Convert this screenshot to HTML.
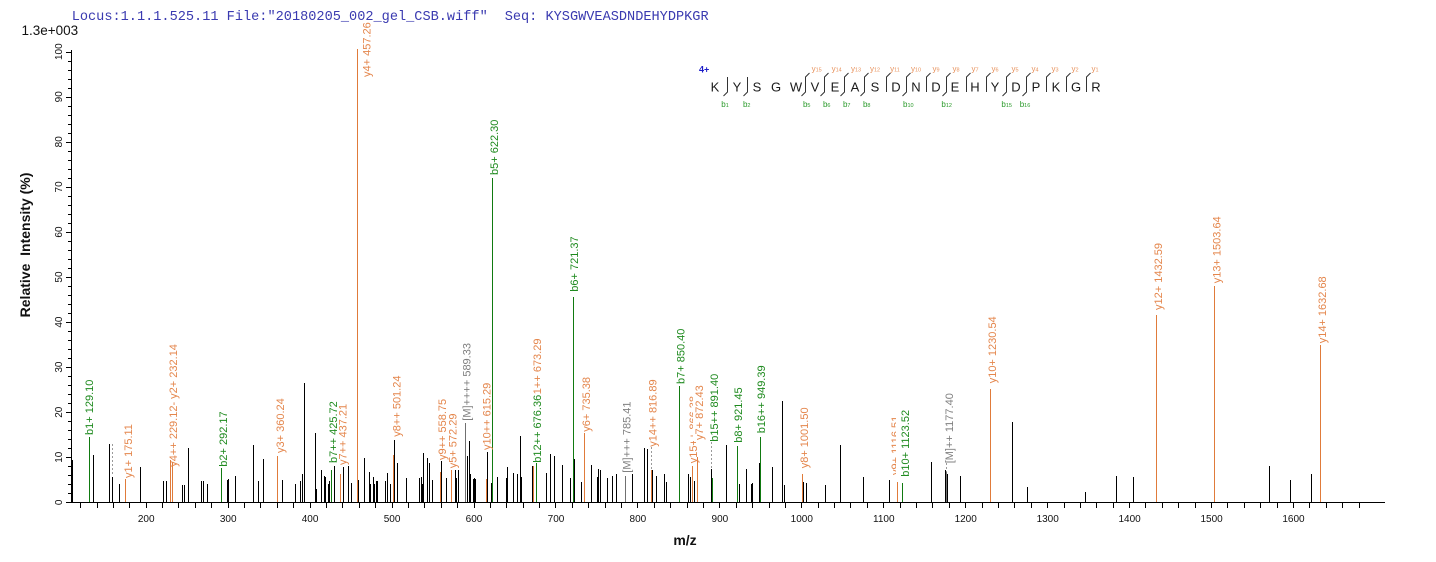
<!DOCTYPE html>
<html>
<head>
<meta charset="utf-8">
<style>
html,body{margin:0;padding:0;background:#fff;}
svg{display:block;}
.lb{font-family:"Liberation Sans",Arial,sans-serif;font-size:11px;}
.o{fill:#e4864c;}
.g{fill:#1e8a1e;}
.m{fill:#808080;}
.tk{font-family:"Liberation Sans",Arial,sans-serif;font-size:10px;fill:#111;}
</style>
</head>
<body>
<svg width="1436" height="562" viewBox="0 0 1436 562" xmlns="http://www.w3.org/2000/svg">
<rect x="0" y="0" width="1436" height="562" fill="#fff"/>

<!-- header -->
<text x="71.7" y="20" font-family="Liberation Mono, monospace" font-size="13.6" fill="#3a3ab0">Locus:1.1.1.525.11 File:"20180205_002_gel_CSB.wiff"</text>
<text x="504.7" y="20" font-family="Liberation Mono, monospace" font-size="13.6" fill="#3a3ab0">Seq: KYSGWVEASDNDEHYDPKGR</text>
<text x="21.5" y="35" font-family="Liberation Sans, Arial, sans-serif" font-size="13.5" fill="#111">1.3e+003</text>

<!-- axes -->
<g shape-rendering="crispEdges" stroke="#000" stroke-width="1" fill="none">
<path d="M71.5 50V503M71 502.5H1385"/>
<path d="M66 502.5H71M66 457.5H71M66 412.5H71M66 367.5H71M66 322.5H71M66 277.5H71M66 232.5H71M66 187.5H71M66 142.5H71M66 97.5H71M66 52.5H71"/>
<path d="M68 493.5H71M68 484.5H71M68 475.5H71M68 466.5H71M68 448.5H71M68 439.5H71M68 430.5H71M68 421.5H71M68 403.5H71M68 394.5H71M68 385.5H71M68 376.5H71M68 358.5H71M68 349.5H71M68 340.5H71M68 331.5H71M68 313.5H71M68 304.5H71M68 295.5H71M68 286.5H71M68 268.5H71M68 259.5H71M68 250.5H71M68 241.5H71M68 223.5H71M68 214.5H71M68 205.5H71M68 196.5H71M68 178.5H71M68 169.5H71M68 160.5H71M68 151.5H71M68 133.5H71M68 124.5H71M68 115.5H71M68 106.5H71M68 88.5H71M68 79.5H71M68 70.5H71M68 61.5H71"/>
<path d="M80.5 502V508M97.5 502V508M113.5 502V508M129.5 502V508M146.5 502V508M162.5 502V508M178.5 502V508M195.5 502V508M211.5 502V508M228.5 502V508M244.5 502V508M260.5 502V508M277.5 502V508M293.5 502V508M310.5 502V508M326.5 502V508M342.5 502V508M359.5 502V508M375.5 502V508M392.5 502V508M408.5 502V508M424.5 502V508M441.5 502V508M457.5 502V508M474.5 502V508M490.5 502V508M506.5 502V508M523.5 502V508M539.5 502V508M555.5 502V508M572.5 502V508M588.5 502V508M605.5 502V508M621.5 502V508M637.5 502V508M654.5 502V508M670.5 502V508M687.5 502V508M703.5 502V508M719.5 502V508M736.5 502V508M752.5 502V508M769.5 502V508M785.5 502V508M801.5 502V508M818.5 502V508M834.5 502V508M850.5 502V508M867.5 502V508M883.5 502V508M900.5 502V508M916.5 502V508M932.5 502V508M949.5 502V508M965.5 502V508M982.5 502V508M998.5 502V508M1014.5 502V508M1031.5 502V508M1047.5 502V508M1064.5 502V508M1080.5 502V508M1096.5 502V508M1113.5 502V508M1129.5 502V508M1145.5 502V508M1162.5 502V508M1178.5 502V508M1195.5 502V508M1211.5 502V508M1227.5 502V508M1244.5 502V508M1260.5 502V508M1277.5 502V508M1293.5 502V508M1309.5 502V508M1326.5 502V508M1342.5 502V508M1359.5 502V508"/>
</g>

<!-- y tick labels -->
<g class="tk" text-anchor="middle">
<text transform="translate(61.9,502.3) rotate(-90)">0</text>
<text transform="translate(61.9,457.2) rotate(-90)">10</text>
<text transform="translate(61.9,412.2) rotate(-90)">20</text>
<text transform="translate(61.9,367.1) rotate(-90)">30</text>
<text transform="translate(61.9,322.1) rotate(-90)">40</text>
<text transform="translate(61.9,277) rotate(-90)">50</text>
<text transform="translate(61.9,232) rotate(-90)">60</text>
<text transform="translate(61.9,186.9) rotate(-90)">70</text>
<text transform="translate(61.9,141.8) rotate(-90)">80</text>
<text transform="translate(61.9,96.8) rotate(-90)">90</text>
<text transform="translate(61.9,51.7) rotate(-90)">100</text>
</g>

<!-- x tick labels -->
<g class="tk" text-anchor="middle">
<text x="146.2" y="521.8">200</text>
<text x="228.2" y="521.8">300</text>
<text x="310.1" y="521.8">400</text>
<text x="392.1" y="521.8">500</text>
<text x="474" y="521.8">600</text>
<text x="556" y="521.8">700</text>
<text x="637.9" y="521.8">800</text>
<text x="719.9" y="521.8">900</text>
<text x="801.8" y="521.8">1000</text>
<text x="883.8" y="521.8">1100</text>
<text x="965.7" y="521.8">1200</text>
<text x="1047.7" y="521.8">1300</text>
<text x="1129.6" y="521.8">1400</text>
<text x="1211.6" y="521.8">1500</text>
<text x="1293.5" y="521.8">1600</text>
</g>

<!-- axis titles -->
<text x="685" y="545" text-anchor="middle" font-family="Liberation Sans, Arial, sans-serif" font-size="14" font-weight="bold" fill="#111">m/z</text>
<text transform="translate(30,245) rotate(-90)" text-anchor="middle" font-family="Liberation Sans, Arial, sans-serif" font-size="14" font-weight="bold" fill="#111">Relative&#160; Intensity (%)</text>

<!-- black peaks -->
<path shape-rendering="crispEdges" stroke="#000" stroke-width="1" fill="none" d="M72.5 460V502M93.5 455V502M109.5 444V502M112.5 477V502M119.5 484V502M140.5 467V502M163.5 481V502M166.5 481V502M182.5 485V502M184.5 485V502M188.5 448V502M201.5 481V502M203.5 481V502M207.5 484V502M227.5 480V502M228.5 479V502M235.5 476V502M253.5 445V502M258.5 481V502M263.5 459V502M282.5 480V502M295.5 484V502M300.5 481V502M302.5 474V502M304.5 383V502M315.5 433V502M316.5 489V502M321.5 470V502M324.5 476V502M325.5 477V502M328.5 484V502M329.5 481V502M334.5 466V502M343.5 467V502M348.5 464V502M351.5 483V502M358.5 480V502M364.5 458V502M369.5 472V502M370.5 484V502M373.5 477V502M374.5 484V502M376.5 481V502M377.5 481V502M385.5 481V502M387.5 473V502M390.5 484V502M394.5 440V502M397.5 463V502M406.5 478V502M419.5 478V502M421.5 477V502M422.5 484V502M423.5 453V502M427.5 458V502M429.5 463V502M432.5 480V502M441.5 461V502M446.5 478V502M455.5 470V502M456.5 478V502M458.5 470V502M465.5 472V502M467.5 456V502M469.5 441V502M470.5 474V502M473.5 479V502M474.5 478V502M475.5 479V502M487.5 452V502M491.5 483V502M497.5 477V502M506.5 478V502M507.5 467V502M513.5 473V502M517.5 474V502M520.5 436V502M521.5 477V502M532.5 466V502M546.5 473V502M550.5 454V502M554.5 456V502M562.5 465V502M570.5 478V502M574.5 459V502M581.5 482V502M591.5 465V502M597.5 477V502M598.5 469V502M600.5 470V502M607.5 478V502M612.5 476V502M616.5 474V502M632.5 474V502M644.5 448V502M647.5 449V502M652.5 470V502M656.5 476V502M664.5 474V502M666.5 482V502M688.5 474V502M690.5 477V502M694.5 481V502M711.5 469V502M726.5 445V502M739.5 484V502M746.5 469V502M751.5 484V502M752.5 483V502M759.5 463V502M772.5 467V502M782.5 401V502M784.5 485V502M803.5 482V502M806.5 483V502M825.5 485V502M840.5 445V502M863.5 477V502M889.5 480V502M931.5 462V502M945.5 470V502M947.5 474V502M960.5 476V502M1012.5 422V502M1027.5 487V502M1085.5 492V502M1116.5 476V502M1133.5 477V502M1269.5 466V502M1290.5 480V502M1311.5 474V502"/>

<!-- orange peaks -->
<path shape-rendering="crispEdges" stroke="#e07b3a" stroke-width="1" fill="none" d="M125.5 479V502M170.5 460V502M172.5 462V502M277.5 456V502M340.5 474V502M357.5 49V502M393.5 455V502M440.5 472V502M451.5 470V502M486.5 479V502M533.5 466V502M584.5 433V502M651.5 470V502M692.5 466V502M697.5 457V502M802.5 474V502M897.5 482V502M990.5 389V502M1156.5 315V502M1214.5 286V502M1320.5 345V502"/>

<!-- green peaks -->
<path shape-rendering="crispEdges" stroke="#117a11" stroke-width="1" fill="none" d="M89.5 437V502M221.5 468V502M331.5 470V502M492.5 178V502M536.5 458V502M573.5 297V502M679.5 386V502M712.5 478V502M737.5 446V502M760.5 437V502M902.5 483V502"/>

<!-- gray peaks -->
<path shape-rendering="crispEdges" stroke="#707070" stroke-width="1" fill="none" d="M465.5 423V502M625.5 476V502M946.5 472V502"/>
<path shape-rendering="crispEdges" stroke="#9a9a9a" stroke-width="1" stroke-dasharray="2,2" fill="none" d="M112.5 444V476M651.5 447V470M711.5 442V469M946.5 463V472"/>

<!-- peak labels -->
<text class="lb g" transform="translate(93.2,435) rotate(-90)">b1+ 129.10</text>
<text class="lb o" transform="translate(132.2,478) rotate(-90)">y1+ 175.11</text>
<text class="lb o" transform="translate(177.2,466.7) rotate(-90)">y4++ 229.12- y2+ 232.14</text>
<text class="lb g" transform="translate(227.2,466.7) rotate(-90)">b2+ 292.17</text>
<text class="lb o" transform="translate(283.9,453) rotate(-90)">y3+ 360.24</text>
<text class="lb g" transform="translate(337.2,463) rotate(-90)">b7++ 425.72</text>
<rect x="337.5" y="399" width="12" height="67" fill="#fff"/>
<text class="lb o" transform="translate(346.6,465) rotate(-90)">y7++ 437.21</text>
<text class="lb o" transform="translate(370.6,77) rotate(-90)">y4+ 457.26</text>
<text class="lb o" transform="translate(400.3,436.7) rotate(-90)">y8++ 501.24</text>
<text class="lb o" transform="translate(446.2,460) rotate(-90)">y9++ 558.75</text>
<text class="lb o" transform="translate(456.6,468.3) rotate(-90)">y5+ 572.29</text>
<text class="lb m" transform="translate(470.6,420.7) rotate(-90)">[M]++++ 589.33</text>
<text class="lb o" transform="translate(490.6,450) rotate(-90)">y10++ 615.29</text>
<text class="lb g" transform="translate(497.9,175) rotate(-90)">b5+ 622.30</text>
<text class="lb o" transform="translate(541.2,405) rotate(-90)">y11++ 673.29</text>
<rect x="531" y="394" width="13" height="69" fill="#fff"/>
<text class="lb g" transform="translate(541.2,462.7) rotate(-90)">b12++ 676.36</text>
<text class="lb g" transform="translate(578.2,291.7) rotate(-90)">b6+ 721.37</text>
<text class="lb o" transform="translate(589.9,431.7) rotate(-90)">y6+ 735.38</text>
<text class="lb m" transform="translate(630.6,472.7) rotate(-90)">[M]+++ 785.41</text>
<text class="lb o" transform="translate(656.6,446.7) rotate(-90)">y14++ 816.89</text>
<text class="lb g" transform="translate(684.6,384) rotate(-90)">b7+ 850.40</text>
<text class="lb o" transform="translate(697.2,463.3) rotate(-90)">y15++ 866.38</text>
<rect x="693" y="379" width="13" height="62" fill="#fff"/>
<text class="lb o" transform="translate(703.2,440) rotate(-90)">y7+ 872.43</text>
<text class="lb g" transform="translate(717.9,441.7) rotate(-90)">b15++ 891.40</text>
<text class="lb g" transform="translate(742.2,442.7) rotate(-90)">b8+ 921.45</text>
<text class="lb g" transform="translate(764.9,433.3) rotate(-90)">b16++ 949.39</text>
<text class="lb o" transform="translate(808.2,468.3) rotate(-90)">y8+ 1001.50</text>
<text class="lb o" transform="translate(898.9,475) rotate(-90)">y9+ 1116.51</text>
<rect x="896" y="413" width="15" height="65" fill="#fff"/>
<text class="lb g" transform="translate(908.9,476.7) rotate(-90)">b10+ 1123.52</text>
<text class="lb m" transform="translate(953.2,463.3) rotate(-90)">[M]++ 1177.40</text>
<text class="lb o" transform="translate(996.2,383.3) rotate(-90)">y10+ 1230.54</text>
<text class="lb o" transform="translate(1162.2,310) rotate(-90)">y12+ 1432.59</text>
<text class="lb o" transform="translate(1220.6,283.3) rotate(-90)">y13+ 1503.64</text>
<text class="lb o" transform="translate(1326.2,343.3) rotate(-90)">y14+ 1632.68</text>

<!-- peptide fragmentation diagram -->
<text x="699" y="72.5" font-family="Liberation Sans, Arial, sans-serif" font-size="9" font-weight="bold" fill="#1c1cc8">4+</text>
<g font-family="Liberation Sans, Arial, sans-serif" font-size="13" fill="#1a1a1a" text-anchor="middle">
<text x="715" y="91.5">K</text>
<text x="737" y="91.5">Y</text>
<text x="757" y="91.5">S</text>
<text x="776" y="91.5">G</text>
<text x="796" y="91.5">W</text>
<text x="815" y="91.5">V</text>
<text x="835" y="91.5">E</text>
<text x="855" y="91.5">A</text>
<text x="875" y="91.5">S</text>
<text x="896" y="91.5">D</text>
<text x="916" y="91.5">N</text>
<text x="936" y="91.5">D</text>
<text x="955" y="91.5">E</text>
<text x="975" y="91.5">H</text>
<text x="995" y="91.5">Y</text>
<text x="1016" y="91.5">D</text>
<text x="1036" y="91.5">P</text>
<text x="1056" y="91.5">K</text>
<text x="1076" y="91.5">G</text>
<text x="1096" y="91.5">R</text>
</g>
<g stroke="#333" stroke-width="1" fill="none">
<path d="M727.5 77V92L723.5 96M747.5 77V92L743.5 96"/>
<path d="M809.5 73L805.5 77V92L801.5 96M828.5 73L824.5 77V92L820.5 96M848.5 73L844.5 77V92L840.5 96M868.5 73L864.5 77V92L860.5 96"/>
<path d="M890.5 73L886.5 77V92"/>
<path d="M910.5 73L906.5 77V92L902.5 96"/>
<path d="M930.5 73L926.5 77V92"/>
<path d="M950.5 73L946.5 77V92L942.5 96"/>
<path d="M970.5 73L966.5 77V92M990.5 73L986.5 77V92"/>
<path d="M1010.5 73L1006.5 77V92L1002.5 96M1030.5 73L1026.5 77V92L1022.5 96"/>
<path d="M1050.5 73L1046.5 77V92M1070.5 73L1066.5 77V92M1090.5 73L1086.5 77V92"/>
</g>
<g font-family="Liberation Sans, Arial, sans-serif" font-size="8" fill="#e8935e" text-anchor="middle">
<text x="816.7" y="71.5">y<tspan font-size="5.5">15</tspan></text>
<text x="836.7" y="71.5">y<tspan font-size="5.5">14</tspan></text>
<text x="856" y="71.5">y<tspan font-size="5.5">13</tspan></text>
<text x="875" y="71.5">y<tspan font-size="5.5">12</tspan></text>
<text x="895" y="71.5">y<tspan font-size="5.5">11</tspan></text>
<text x="916" y="71.5">y<tspan font-size="5.5">10</tspan></text>
<text x="936" y="71.5">y<tspan font-size="5.5">9</tspan></text>
<text x="956" y="71.5">y<tspan font-size="5.5">8</tspan></text>
<text x="975" y="71.5">y<tspan font-size="5.5">7</tspan></text>
<text x="995" y="71.5">y<tspan font-size="5.5">6</tspan></text>
<text x="1015" y="71.5">y<tspan font-size="5.5">5</tspan></text>
<text x="1035" y="71.5">y<tspan font-size="5.5">4</tspan></text>
<text x="1055" y="71.5">y<tspan font-size="5.5">3</tspan></text>
<text x="1075" y="71.5">y<tspan font-size="5.5">2</tspan></text>
<text x="1095" y="71.5">y<tspan font-size="5.5">1</tspan></text>
</g>
<g font-family="Liberation Sans, Arial, sans-serif" font-size="8" fill="#2a9a2a" text-anchor="middle">
<text x="725" y="107">b<tspan font-size="5.5">1</tspan></text>
<text x="746.7" y="107">b<tspan font-size="5.5">2</tspan></text>
<text x="806.7" y="107">b<tspan font-size="5.5">5</tspan></text>
<text x="826.7" y="107">b<tspan font-size="5.5">6</tspan></text>
<text x="846.7" y="107">b<tspan font-size="5.5">7</tspan></text>
<text x="866.7" y="107">b<tspan font-size="5.5">8</tspan></text>
<text x="908.3" y="107">b<tspan font-size="5.5">10</tspan></text>
<text x="946.7" y="107">b<tspan font-size="5.5">12</tspan></text>
<text x="1006.7" y="107">b<tspan font-size="5.5">15</tspan></text>
<text x="1025" y="107">b<tspan font-size="5.5">16</tspan></text>
</g>
</svg>
</body>
</html>
